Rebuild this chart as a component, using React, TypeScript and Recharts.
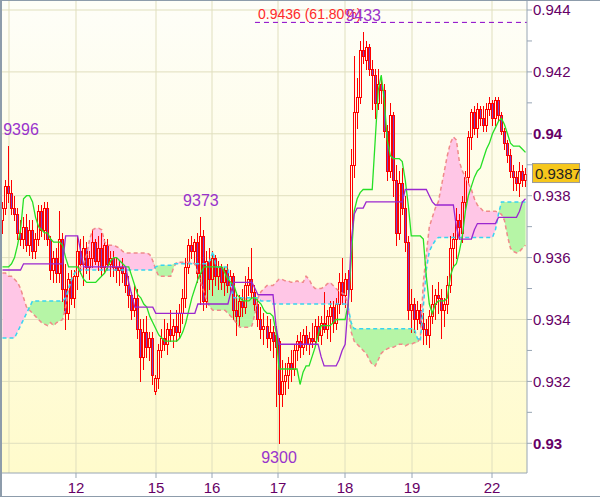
import React from 'react';
import {
  ComposedChart, Bar, Line, Area, XAxis, YAxis, CartesianGrid, ReferenceLine, ReferenceDot,
} from 'recharts';

const FONT = "'Liberation Sans', Arial, Helvetica, sans-serif";

// ---- data (prices in pips: 9387 = 0.9387) ----
const openP = [
  9372,9376,9383,9381,9376,9374,9368,9366,9370,9364,
  9369,9362,9366,9375,9369,9376,9366,9356,9360,9355,
  9366,9350,9342,9353,9347,9354,9362,9358,9363,9357,
  9360,9365,9359,9363,9357,9364,9358,9360,9357,9356,
  9357,9355,9351,9348,9343,9347,9337,9328,9336,9331,
  9334,9317,9321,9330,9334,9332,9337,9335,9338,9336,
  9342,9347,9357,9364,9362,9365,9355,9367,9346,9359,
  9353,9360,9354,9357,9352,9356,9351,9354,9343,9341,
  9346,9344,9351,9353,9349,9345,9340,9337,9338,9334,
  9336,9335,9333,9316,9320,9322,9326,9324,9330,9333,
  9331,9335,9332,9334,9333,9338,9335,9339,9337,9341,
  9344,9339,9345,9352,9348,9353,9350,9390,9407,9412,
  9427,9424,9428,9421,9419,9410,9416,9414,9401,9388,
  9406,9385,9368,9384,9376,9365,9343,9345,9340,9343,
  9339,9337,9335,9341,9345,9348,9347,9343,9345,9351,
  9363,9366,9372,9368,9378,9386,9399,9407,9402,9408,
  9405,9403,9408,9410,9405,9411,9406,9401,9397,9393,
  9388,9386,9384,9388,9385,
];
const highP = [
  9378,9385,9396,9385,9380,9376,9372,9373,9374,9372,
  9372,9368,9377,9377,9378,9378,9367,9362,9363,9375,
  9368,9358,9355,9356,9356,9367,9366,9367,9365,9362,
  9369,9366,9367,9368,9366,9366,9362,9362,9360,9359,
  9360,9357,9354,9349,9351,9350,9340,9340,9341,9336,
  9336,9322,9332,9337,9340,9339,9343,9340,9343,9345,
  9350,9360,9366,9367,9366,9368,9373,9369,9362,9363,
  9362,9361,9359,9358,9357,9358,9356,9355,9349,9348,
  9350,9354,9357,9363,9351,9347,9344,9342,9341,9340,
  9338,9338,9334,9327,9326,9328,9330,9332,9335,9336,
  9337,9338,9336,9339,9340,9341,9341,9349,9343,9346,
  9346,9347,9355,9360,9355,9356,9395,9425,9418,9430,
  9433,9430,9429,9424,9421,9421,9418,9416,9403,9410,
  9407,9390,9388,9389,9380,9367,9350,9347,9346,9345,
  9342,9340,9343,9351,9350,9352,9350,9347,9354,9367,
  9368,9376,9374,9380,9388,9401,9408,9409,9410,9409,
  9409,9410,9412,9411,9412,9412,9407,9402,9398,9395,
  9390,9388,9391,9390,9389,
];
const lowP = [
  9368,9374,9378,9374,9372,9366,9364,9363,9362,9361,
  9360,9360,9364,9367,9366,9364,9353,9352,9352,9352,
  9346,9337,9340,9345,9344,9350,9355,9351,9355,9353,
  9357,9358,9356,9354,9355,9356,9354,9354,9352,9351,
  9352,9349,9344,9340,9341,9334,9320,9324,9328,9327,
  9319,9316,9318,9328,9330,9329,9333,9331,9333,9334,
  9339,9344,9355,9360,9358,9352,9345,9343,9344,9350,
  9348,9351,9350,9350,9348,9349,9349,9340,9335,9338,
  9341,9342,9348,9347,9343,9338,9334,9332,9331,9330,
  9328,9312,9300,9312,9316,9318,9320,9322,9327,9328,
  9329,9330,9329,9331,9332,9333,9332,9336,9334,9333,
  9336,9337,9342,9345,9344,9344,9346,9386,9402,9410,
  9423,9421,9419,9408,9405,9408,9410,9399,9385,9386,
  9380,9364,9366,9374,9362,9340,9336,9336,9337,9338,
  9332,9332,9331,9339,9340,9342,9334,9338,9342,9349,
  9357,9360,9366,9365,9376,9384,9395,9400,9399,9403,
  9401,9401,9406,9403,9403,9404,9400,9395,9391,9386,
  9382,9382,9380,9383,9383,
];
const closeP = [
  9376,9383,9381,9376,9374,9368,9366,9370,9364,9369,
  9362,9366,9375,9369,9376,9366,9356,9360,9355,9366,
  9350,9342,9353,9347,9354,9362,9358,9363,9357,9360,
  9365,9359,9363,9357,9364,9358,9360,9357,9356,9357,
  9355,9351,9348,9343,9347,9337,9328,9336,9331,9334,
  9322,9321,9330,9334,9332,9337,9335,9338,9336,9342,
  9347,9357,9364,9362,9365,9355,9367,9346,9359,9353,
  9360,9354,9357,9352,9356,9351,9354,9343,9341,9346,
  9344,9351,9353,9349,9345,9340,9337,9338,9334,9336,
  9333,9331,9316,9320,9322,9326,9324,9330,9333,9331,
  9335,9332,9334,9333,9338,9335,9339,9337,9341,9344,
  9339,9345,9352,9348,9353,9350,9390,9407,9412,9427,
  9425,9428,9421,9419,9410,9416,9414,9401,9388,9406,
  9385,9368,9384,9376,9365,9343,9345,9340,9343,9339,
  9337,9335,9341,9345,9348,9347,9343,9345,9351,9363,
  9366,9372,9370,9378,9386,9399,9407,9402,9408,9405,
  9403,9408,9410,9405,9411,9406,9401,9397,9393,9388,
  9386,9384,9388,9385,9387,
];
const tenkanP = [
  9357,9357,9357,9358,9360,9364,9369,9379,9380,9380,
  9378,9373,9370,9369,9368,9368,9366,9365,9365,9365,
  9364,9360,9357,9357,9357,9357,9355,9353,9352,9352,
  9352,9352,9353,9354,9355,9357,9359,9360,9360,9359,
  9358,9357,9357,9354,9351,9348,9347,9345,9344,9341,
  9339,9337,9335,9334,9333,9333,9333,9333,9333,9334,
  9336,9339,9343,9347,9350,9353,9355,9357,9357,9357,
  9357,9357,9357,9357,9355,9353,9352,9351,9348,9347,
  9346,9346,9346,9347,9347,9346,9345,9343,9342,9342,
  9341,9336,9324,9324,9324,9324,9324,9324,9324,9319,
  9323,9325,9325,9328,9331,9335,9338,9338,9338,9338,
  9339,9340,9340,9340,9340,9345,9359,9375,9379,9381,
  9382,9382,9382,9382,9398,9414,9419,9411,9398,9393,
  9392,9392,9392,9391,9385,9377,9367,9367,9367,9367,
  9366,9354,9345,9342,9345,9346,9346,9346,9347,9354,
  9357,9358,9362,9367,9375,9380,9383,9386,9388,9389,
  9392,9395,9397,9400,9402,9404,9405,9403,9400,9397,
  9396,9396,9396,9395,9394,
];
const kijunP = [
  9356,9356,9356,9356,9356,9356,9356,9358,9358,9358,
  9358,9358,9358,9358,9358,9358,9358,9358,9358,9358,
  9358,9367,9367,9367,9367,9367,9362,9357,9357,9357,
  9357,9357,9357,9357,9357,9357,9357,9357,9357,9357,
  9357,9357,9352,9348,9344,9344,9344,9344,9344,9344,
  9344,9342,9342,9342,9342,9342,9342,9342,9342,9342,
  9342,9342,9342,9342,9342,9345,9345,9345,9345,9345,
  9345,9345,9345,9345,9345,9345,9349,9352,9352,9352,
  9352,9352,9352,9352,9350,9348,9348,9348,9348,9348,
  9348,9338,9332,9332,9332,9332,9332,9332,9332,9332,
  9332,9332,9332,9332,9332,9332,9328,9325,9325,9325,
  9325,9325,9327,9330,9332,9345,9365,9374,9376,9376,
  9376,9378,9378,9378,9378,9378,9378,9378,9378,9378,
  9378,9378,9378,9378,9382,9382,9382,9382,9382,9382,
  9382,9382,9380,9378,9377,9377,9377,9377,9377,9377,
  9377,9370,9366,9366,9366,9366,9366,9369,9371,9371,
  9371,9371,9371,9371,9371,9373,9373,9373,9373,9373,
  9373,9373,9375,9378,9379,
];
const spanAP = [
  9334,9334,9334,9334,9334,9336,9338,9340,9342,9344,
  9346,9346,9346,9346,9346,9346,9346,9346,9346,9346,
  9346,9347,9350,9353,9355,9356,9356,9356,9356,9356,
  9356,9356,9356,9356,9356,9356,9356,9356,9356,9356,
  9356,9356,9356,9356,9356,9356,9356,9356,9356,9356,
  9356,9357,9357.5,9357.5,9357.5,9357.5,9357.5,9358,9358,9358,
  9358,9358,9358,9358,9358,9358,9358,9358,9358,9359,
  9362,9357,9357,9357,9357,9357,9350,9347,9347,9347,
  9347,9347,9347,9347,9347,9347,9346,9346,9346,9346,
  9345,9345,9345,9345,9345,9345,9345,9345,9345,9345,
  9345,9345,9345,9345,9345,9345,9345,9345,9345,9345,
  9345,9345,9345,9345,9345,9344,9339,9337,9337,9337,
  9337,9337,9337,9337,9337,9337,9337,9337,9337,9337,
  9337,9337,9337,9337,9337,9337,9337,9337,9334,9333,
  9344,9356,9362,9364,9365.5,9366.5,9366.5,9366.5,9366.5,9366.5,
  9366.5,9366.5,9366.5,9366.5,9366.5,9366.5,9366.5,9366.5,9366.5,9366.5,
  9366.5,9366.5,9366.5,9366.5,9369,9374,9378,9378,9378,9378,
  9378,9378,9378,9378,9378,
];
const spanBP = [
  9355,9355,9354,9354,9353,9352,9350,9347,9344,9343,
  9342,9341,9340,9339,9338.5,9338,9339,9338,9339,9339.5,
  9340,9344,9350,9353,9355,9356,9357,9358,9361,9366,
  9369,9369.5,9369.5,9369,9365,9364,9364,9364,9363.5,9363,
  9362,9361.5,9361.5,9361.5,9361.5,9361.5,9361.5,9361.5,9361.5,9361,
  9359,9356,9354,9354,9354,9354,9354,9357,9358.5,9358.5,
  9358.5,9358.5,9358.5,9358.5,9358,9355,9352,9349,9346,9344,
  9343,9343,9343,9343,9343,9342,9341,9340,9338.5,9337.5,
  9337.5,9337.5,9337.5,9338,9342,9347,9349,9350,9351,9351,
  9351,9352,9353,9353,9352.5,9352.5,9352,9352,9352.5,9352,
  9352,9354,9353,9351,9350,9350,9350,9350.5,9351.5,9352,
  9351,9350,9349,9348.5,9348,9344,9336,9333,9332,9331,
  9330,9329,9327,9325.5,9325,9327,9329,9330,9330.5,9331,
  9331,9331.5,9332,9332,9331.5,9332,9332,9332.5,9332.5,9334,
  9352,9361,9370,9373,9376,9378,9383,9388,9393,9397,
  9399,9398,9391,9388,9386,9384,9382,9379,9377,9376,
  9375,9375,9375,9375,9375,9374.5,9374,9372,9367,9363,
  9362,9361.5,9362,9363,9364,
];

// day separators (in candle-index units) and their labels
const dayTickPos = [24.45, 51.07, 69.7, 91.66, 113.95, 136.24, 162.86];
const dayTickLabels = ['12', '15', '16', '17', '18', '19', '22'];
const extraDayLine = [2.16];

const yTicks = [0.93, 0.931, 0.932, 0.933, 0.934, 0.935, 0.936, 0.937, 0.938, 0.939, 0.94, 0.941, 0.942, 0.943, 0.944];
const yGrid = [0.93, 0.932, 0.934, 0.936, 0.938, 0.94, 0.942, 0.944];
const yDomain = [0.92904, 0.944291];

// extreme annotations
const annIdx = [2, 66, 92, 120];
const annVal = [9396, 9373, 9300, 9433];
const annType = ['high', 'high', 'low', 'high'];

// fibonacci level
const fibLevel = 9436;
const fibPct = '61.80%';
const fibFromIdx = 84;

const N = closeP.length;
const P = (v: number) => v / 10000;

const data = closeP.map((c, i) => {
  const A = P(spanAP[i]);
  const B = P(spanBP[i]);
  const top = Math.max(A, B);
  return {
    i,
    o: P(openP[i]), h: P(highP[i]), l: P(lowP[i]), c: P(c),
    range: [P(lowP[i]), P(highP[i])],
    tenkan: P(tenkanP[i]),
    kijun: P(kijunP[i]),
    spanA: A,
    spanB: B,
    pink: [A, top],
    green: [B, top],
  };
});

const lastClose = P(closeP[N - 1]);

function Candle(props: any) {
  const { x, y, width, height, payload } = props;
  if (x == null || y == null || !payload) return null;
  const top = Math.min(y, y + height);
  const bot = Math.max(y, y + height);
  const { o, h, l, c } = payload;
  const k = h > l ? (bot - top) / (h - l) : 0;
  const py = (v: number) => top + (h - v) * k;
  const cx = Math.round(x + width / 2 - 0.5) + 0.5;
  const bTop = Math.round(py(Math.max(o, c))) + 0.5;
  let bBot = Math.round(py(Math.min(o, c))) + 0.5;
  if (bBot < bTop + 1) bBot = bTop + 1;
  const up = c >= o;
  return (
    <g shapeRendering="crispEdges">
      <line x1={cx} x2={cx} y1={Math.round(top)} y2={bTop} stroke="#ff0000" />
      <line x1={cx} x2={cx} y1={bBot} y2={Math.round(bot) + 1} stroke="#ff0000" />
      <rect x={cx - 1} y={bTop} width={2} height={bBot - bTop} fill={up ? 'none' : '#7a3ec6'} stroke="#ff0000" />
    </g>
  );
}

function YTick(props: any) {
  const { x, y, payload } = props;
  const milli = Math.round(payload.value * 1000);
  if (milli % 2 !== 0) return <g />;
  const bold = milli % 10 === 0;
  const label = bold ? (milli / 1000).toFixed(2) : (milli / 1000).toFixed(3);
  return (
    <text x={x} y={y} dy="0.355em" textAnchor="start" fill="#660066" fontSize={15}
      fontWeight={bold ? 'bold' : 'normal'} fontFamily={FONT}>{label}</text>
  );
}

function AnnLabel(props: any) {
  const { viewBox, text, kind } = props;
  if (!viewBox) return null;
  const cx = viewBox.x + (viewBox.width || 0) / 2;
  const cy = viewBox.y + (viewBox.height || 0) / 2;
  const tx = Math.max(cx, 21);
  const ty = kind === 'low' ? cy + 20 : cy - 11;
  return (
    <text x={tx} y={ty} textAnchor="middle" fontSize={16} fill="#9933cc" fontFamily={FONT}>{text}</text>
  );
}

function FibLabel(props: any) {
  const { viewBox, text } = props;
  if (!viewBox) return null;
  return (
    <text x={viewBox.x + 3} y={viewBox.y - 3} fontSize={14} fill="#ff2a2a" fontFamily={FONT}>{text}</text>
  );
}

function PriceTag(props: any) {
  const { viewBox, text } = props;
  if (!viewBox) return null;
  const x = viewBox.x + viewBox.width + 5;
  const y = viewBox.y;
  return (
    <g>
      <rect x={x + 0.5} y={y - 10.5} width={47} height={19} fill="#f6c71c" stroke="#9a9a9a" />
      <text x={x + 3} y={y + 5} fontSize={15} fill="#222222" fontFamily={FONT}>{text}</text>
    </g>
  );
}

export default function App() {
  return (
    <div style={{ position: 'absolute', left: 0, top: 0, width: 600, height: 497, background: '#ffffff', overflow: 'hidden' }}>
      <ComposedChart width={600} height={497} data={data} margin={{ top: 1, right: 0, bottom: 0, left: 1 }}
        style={{ fontFamily: FONT }}>
        <defs>
          <linearGradient id="plotBg" x1="0" y1="0" x2="0" y2="1">
            <stop offset="0" stopColor="#fefef8" />
            <stop offset="1" stopColor="#fffbcc" />
          </linearGradient>
        </defs>
        <CartesianGrid fill="url(#plotBg)" fillOpacity={1} stroke="#e0dfbe"
          horizontalValues={yGrid} verticalValues={[...extraDayLine, ...dayTickPos]} />
        <XAxis dataKey="i" type="number" domain={[-0.5, N - 0.5]} allowDataOverflow
          ticks={dayTickPos} interval={0}
          tickFormatter={(v: number) => { const k = dayTickPos.indexOf(v); return k >= 0 ? dayTickLabels[k] : ''; }}
          height={24} tickSize={5} tickMargin={4} stroke="#98a6b4"
          tick={{ fill: '#660066', fontSize: 15, fontFamily: FONT }} />
        <YAxis orientation="right" type="number" domain={yDomain} allowDataOverflow
          ticks={yTicks} interval={0} width={73} tickSize={5} tickMargin={1} stroke="#98a6b4"
          tick={(p: any) => <YTick {...p} />} />
        <Area dataKey="pink" type="linear" stroke="none" fill="#ffc6e6" fillOpacity={1}
          dot={false} activeDot={false} isAnimationActive={false} />
        <Area dataKey="green" type="linear" stroke="none" fill="#b6f5a6" fillOpacity={1}
          dot={false} activeDot={false} isAnimationActive={false} />
        <Line dataKey="spanB" type="linear" stroke="#f08a8a" strokeWidth={1.5} strokeDasharray="4 3"
          dot={false} activeDot={false} isAnimationActive={false} />
        <Line dataKey="spanA" type="linear" stroke="#38d4f0" strokeWidth={1.5} strokeDasharray="4 3"
          dot={false} activeDot={false} isAnimationActive={false} />
        <Bar dataKey="range" barSize={3} isAnimationActive={false}
          shape={(p: any) => <Candle {...p} />} />
        <Line dataKey="tenkan" type="linear" stroke="#26e026" strokeWidth={1.3}
          dot={false} activeDot={false} isAnimationActive={false} />
        <Line dataKey="kijun" type="linear" stroke="#9b27cf" strokeWidth={1.3}
          dot={false} activeDot={false} isAnimationActive={false} />
        <ReferenceLine
          segment={[{ x: fibFromIdx, y: P(fibLevel) }, { x: N - 0.5, y: P(fibLevel) }]}
          stroke="#8a00c8" strokeDasharray="5 4"
          label={<FibLabel text={`${P(fibLevel).toFixed(4)} (${fibPct})`} />} />
        <ReferenceLine y={lastClose} stroke="none" label={<PriceTag text={lastClose.toFixed(4)} />} />
        {annIdx.map((ix, k) => (
          <ReferenceDot key={k} x={ix} y={P(annVal[k])} r={0} fill="none" stroke="none"
            label={<AnnLabel text={String(annVal[k])} kind={annType[k]} />} />
        ))}
      </ComposedChart>
      <div style={{
        position: 'absolute', left: 0, top: 0, width: 600, height: 497, boxSizing: 'border-box',
        borderLeft: '2px solid #8d9cab', borderTop: '1px solid #8d9cab', borderBottom: '1px solid #8d9cab',
        pointerEvents: 'none',
      }} />
    </div>
  );
}
